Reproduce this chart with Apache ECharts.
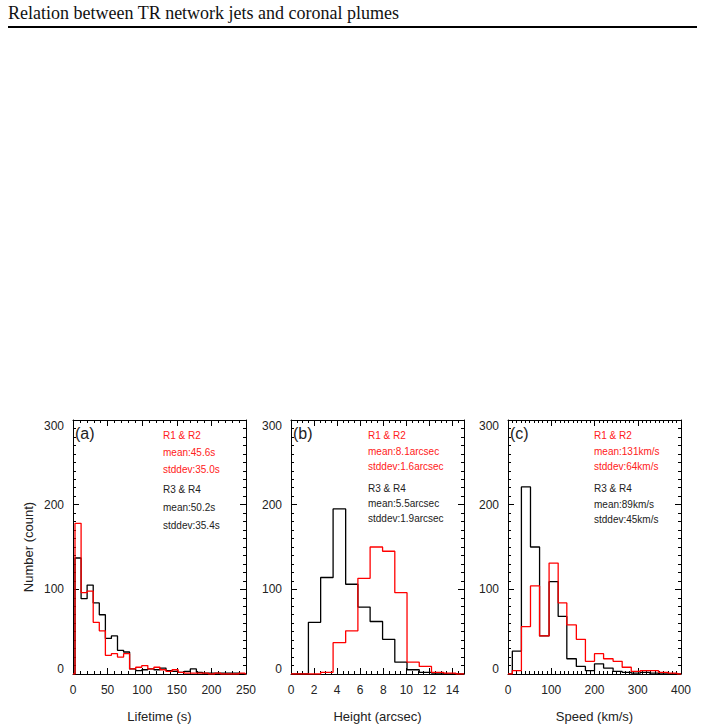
<!DOCTYPE html>
<html><head><meta charset="utf-8">
<script src="https://cdn.jsdelivr.net/npm/echarts@6/dist/echarts.min.js"></script>
<style>html,body{margin:0;padding:0;background:#fff;}#chart{width:705px;height:726px;}</style>
</head><body><div id="chart"></div>
<script>
// ---- data ----
const headerText = 'Relation between TR network jets and coronal plumes';
const panelLabels = ['(a)', '(b)', '(c)'];
const xTitles = ['Lifetime (s)', 'Height (arcsec)', 'Speed (km/s)'];
const yTitle = 'Number (count)';
const yTicks = [0, 100, 200, 300];

// Panel (a): lifetime histogram
const lifetimeEdges = [2.9, 11.7, 20.4, 29.2, 38.0, 46.8, 55.5, 64.3, 73.1, 81.8, 90.6, 99.4, 108.1, 116.9, 125.7, 134.4, 143.2, 152.0, 160.8, 169.5, 178.3, 187.1, 195.8, 204.6, 213.4, 222.2, 230.9, 239.7, 248.5];
const lifetimeR12 = [178, 96, 98, 61, 51, 22, 24, 20, 24, 6, 8, 10, 6, 8, 5, 3, 5, 2, 1, 1, 1, 1, 0, 1, 0, 0, 0, 1];
const lifetimeR34 = [137, 89, 105, 84, 70, 42, 45, 28, 26, 6, 4, 5, 6, 5, 7, 4, 3, 2, 3, 6, 2, 1, 1, 1, 1, 1, 1, 0];

// Panel (b): height histogram
const heightEdges = [0.45, 1.51, 2.57, 3.65, 4.74, 5.80, 6.86, 7.94, 9.0, 10.06, 11.12, 12.18, 13.24, 14.3];
const heightR12 = [0, 0, 2, 37, 51, 113, 150, 145, 96, 14, 9, 2, 1];
const heightR34 = [0, 61, 114, 195, 106, 79, 62, 41, 14, 5, 2, 1, 0];

// Panel (c): speed histogram
const speedEdges = [10, 31, 52, 73, 95, 116, 136, 158, 179, 200, 221, 243, 264, 285, 306, 327, 348, 370, 391];
const speedR12 = [4, 56, 104, 45, 131, 84, 58, 41, 15, 24, 18, 15, 8, 3, 4, 4, 2, 1];
const speedR34 = [27, 221, 150, 45, 109, 68, 18, 9, 4, 12, 7, 3, 2, 1, 2, 1, 0, 0];

// Annotation texts
const statsR12 = [
  ['R1 & R2', 'mean:45.6s', 'stddev:35.0s'],
  ['R1 & R2', 'mean:8.1arcsec', 'stddev:1.6arcsec'],
  ['R1 & R2', 'mean:131km/s', 'stddev:64km/s']
];
const statsR34 = [
  ['R3 & R4', 'mean:50.2s', 'stddev:35.4s'],
  ['R3 & R4', 'mean:5.5arcsec', 'stddev:1.9arcsec'],
  ['R3 & R4', 'mean:89km/s', 'stddev:45km/s']
];
const xRanges = [[0, 250, 50, 5], [0, 15, 2, 4], [0, 400, 100, 10]];

// ---- layout ----
const FONT = '"Liberation Sans", Arial, sans-serif';
const gridLefts = [73, 291, 508];
const gridTop = 420, gridW = 173, gridH = 254;
const RED = '#ff0000', BLACK = '#000000';

function stepPoints(edges, counts, xmin, xmax) {
  const pts = [[xmin, 0], [edges[0], 0]];
  for (let i = 0; i < counts.length; i++) pts.push([edges[i], counts[i]]);
  pts.push([edges[edges.length - 1], 0]);
  pts.push([xmax, 0]);
  return pts;
}

const grids = [], xAxes = [], yAxes = [], series = [];
const tickStyle = {color: '#000', width: 1};
const histData = [[lifetimeEdges, lifetimeR12, lifetimeR34], [heightEdges, heightR12, heightR34], [speedEdges, speedR12, speedR34]];

for (let g = 0; g < 3; g++) {
  grids.push({left: gridLefts[g], top: gridTop, width: gridW, height: gridH, containLabel: false});
  const [xmin, xmax, xint, xminor] = xRanges[g];
  const baseX = {
    gridIndex: g, type: 'value', min: xmin, max: xmax, interval: xint,
    axisLine: {show: true, onZero: false, lineStyle: tickStyle},
    axisTick: {show: true, inside: true, length: 6, lineStyle: tickStyle},
    minorTick: {show: true, splitNumber: xminor, length: 3, lineStyle: tickStyle},
    splitLine: {show: false}
  };
  xAxes.push(Object.assign({}, baseX, {
    position: 'bottom',
    name: xTitles[g], nameLocation: 'middle', nameGap: 36,
    nameTextStyle: {fontFamily: FONT, fontSize: 13, color: '#222'},
    axisLabel: {show: true, margin: 10, fontFamily: FONT, fontSize: 12, color: '#222',
      formatter: v => (v > xmax - 1e-9 && (v - xmin) % xint !== 0) ? '' : String(v)}
  }));
  xAxes.push(Object.assign({}, baseX, {position: 'top', axisLabel: {show: false}}));
  const baseY = {
    gridIndex: g, type: 'value', min: 0, max: 300, interval: 100,
    axisLine: {show: true, onZero: false, lineStyle: tickStyle},
    axisTick: {show: true, inside: true, length: 6, lineStyle: tickStyle},
    minorTick: {show: true, splitNumber: 10, length: 3, lineStyle: tickStyle},
    splitLine: {show: false}
  };
  yAxes.push(Object.assign({}, baseY, {
    position: 'left',
    name: g === 0 ? yTitle : '', nameLocation: 'middle', nameGap: 38, nameRotate: 90,
    nameTextStyle: {fontFamily: FONT, fontSize: 13, color: '#222'},
    axisLabel: {show: true, margin: 9, fontFamily: FONT, fontSize: 12, color: '#222',
      formatter: v => v === yTicks[yTicks.length - 1] ? '{top|' + v + '}' : (v === yTicks[0] ? '{bot|' + v + '}' : String(v)),
      rich: {top: {padding: [12, 0, 0, 0], fontFamily: FONT, fontSize: 12, color: '#222'},
             bot: {padding: [0, 0, 10, 0], fontFamily: FONT, fontSize: 12, color: '#222'}}}
  }));
  yAxes.push(Object.assign({}, baseY, {position: 'right', axisLabel: {show: false}}));

  const [edges, r12, r34] = histData[g];
  series.push({type: 'line', xAxisIndex: 2 * g, yAxisIndex: 2 * g, step: 'end', symbol: 'none',
    data: stepPoints(edges, r34, xmin, xmax), lineStyle: {color: BLACK, width: 1.3}, z: 3, animation: false});
  series.push({type: 'line', xAxisIndex: 2 * g, yAxisIndex: 2 * g, step: 'end', symbol: 'none',
    data: stepPoints(edges, r12, xmin, xmax), lineStyle: {color: RED, width: 1.3}, z: 4, animation: false});
}

// annotation texts
const graphics = [
  {type: 'text', x: 8, y: 13, style: {text: headerText, fill: '#111', font: '18px "Liberation Serif", serif', verticalAlign: 'middle', align: 'left'}},
  {type: 'rect', shape: {x: 8, y: 26, width: 689, height: 2}, style: {fill: '#000'}}
];
const textYs = [[435, 452, 469, 489, 507, 525], [435, 451, 466, 488, 503, 518], [435, 451, 466, 488, 504, 519]];
const textXs = [163, 368, 594];
for (let g = 0; g < 3; g++) {
  graphics.push({type: 'text', x: gridLefts[g] + 2, y: 433, style: {text: panelLabels[g], fill: '#222', font: '16px ' + FONT, verticalAlign: 'middle', align: 'left'}});
  const lines = statsR12[g].concat(statsR34[g]);
  lines.forEach((t, i) => {
    graphics.push({type: 'text', x: textXs[g], y: textYs[g][i], style: {text: t, fill: i < 3 ? '#ff2020' : '#222', font: '10px ' + FONT, verticalAlign: 'middle', align: 'left'}});
  });
}

const chart = echarts.init(document.getElementById('chart'), null, {renderer: 'svg'});
chart.setOption({
  animation: false,
  backgroundColor: '#fff',
  grid: grids, xAxis: xAxes, yAxis: yAxes, series: series, graphic: graphics
});
</script></body></html>
